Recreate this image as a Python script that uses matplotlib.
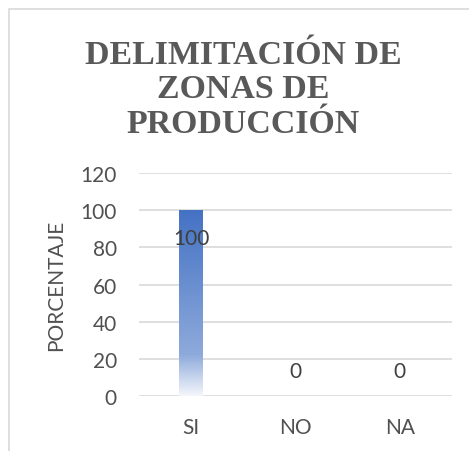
import matplotlib
matplotlib.use("Agg")
import matplotlib.pyplot as plt
import numpy as np
from matplotlib.colors import LinearSegmentedColormap
from matplotlib.patches import Rectangle

categories = ["SI", "NO", "NA"]
values = [100, 0, 0]
label_pos = [85, 13.5, 13.5]
yticks = [0, 20, 40, 60, 80, 100, 120]
title = "DELIMITACIÓN DE\nZONAS DE\nPRODUCCIÓN"
ylabel = "PORCENTAJE"

fig = plt.figure(figsize=(4.69, 4.52), dpi=100)
fig.patch.set_facecolor("white")

# outer frame
fig.patches.append(Rectangle((9/469, -0.1), 1.2, 1 - 10/452 + 0.1, transform=fig.transFigure,
                             fill=False, edgecolor="#D9D9D9", linewidth=1.2, zorder=0))

ax = fig.add_axes([139/469, 55/452, 313/469, 223/452])
x = np.arange(len(categories))
bw = 0.23
bars = ax.bar(x, values, width=bw, color="none", edgecolor="none", zorder=3)

cmap = LinearSegmentedColormap.from_list(
    "g", [(0.0, "#F4F7FC"), (0.22, "#8EAADB"), (1.0, "#4472C4")])
grad = np.linspace(0, 1, 256).reshape(-1, 1)
for b, v in zip(bars, values):
    if v <= 0:
        continue
    x0 = b.get_x()
    im = ax.imshow(grad, cmap=cmap, origin="lower", aspect="auto",
                   extent=[x0, x0 + b.get_width(), 0, v], zorder=3)
    im.set_clip_path(b)

for xi, v, lp in zip(x, values, label_pos):
    ax.text(xi, lp, f"{v}", ha="center", va="center", fontsize=15,
            color="#404040", family="Lato", zorder=5)

ax.set_xlim(-0.5, len(categories) - 0.5)
ax.set_ylim(0, 120)
ax.set_yticks(yticks)
ax.set_xticks(x)
ax.set_xticklabels(categories)
ax.yaxis.grid(True, color="#D9D9D9", linewidth=1.2, zorder=0)
ax.set_axisbelow(True)
for s in ax.spines.values():
    s.set_visible(False)
ax.tick_params(axis="both", length=0, labelsize=15, colors="#505050", labelfontfamily="Lato")
ax.tick_params(axis="y", pad=16)
ax.tick_params(axis="x", pad=15)
ax.set_ylabel(ylabel, fontsize=15, color="#505050", family="Lato", labelpad=10)

fig.text(243/469, 1 - 90/452, title, ha="center", va="center", fontsize=24.4,
         fontweight="bold", family="Liberation Serif", color="#595959", linespacing=1.13)

fig.savefig("out.png", dpi=100, facecolor="white")
